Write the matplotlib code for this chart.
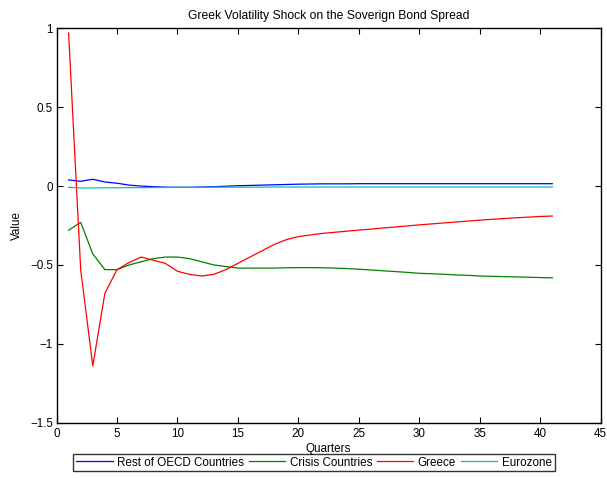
import matplotlib
matplotlib.use("Agg")
import matplotlib.pyplot as plt

plt.rcParams['font.family'] = ['Liberation Sans', 'DejaVu Sans']

quarters = list(range(1, 42))

rest_oecd = [0.039, 0.030, 0.043, 0.026, 0.018, 0.006, 0.000, -0.004, -0.007, -0.008,
             -0.008, -0.006, -0.004, -0.001, 0.002, 0.004, 0.006, 0.008, 0.010, 0.012,
             0.013, 0.014, 0.014, 0.014, 0.015, 0.015, 0.015, 0.015, 0.015, 0.015,
             0.015, 0.015, 0.015, 0.015, 0.015, 0.015, 0.015, 0.015, 0.015, 0.015, 0.015]

crisis = [-0.28, -0.23, -0.43, -0.53, -0.53, -0.50, -0.48, -0.46, -0.45, -0.45,
          -0.46, -0.48, -0.50, -0.51, -0.52, -0.52, -0.52, -0.52, -0.518, -0.517,
          -0.517, -0.518, -0.520, -0.523, -0.527, -0.532, -0.537, -0.542, -0.547, -0.553,
          -0.556, -0.559, -0.563, -0.566, -0.570, -0.572, -0.574, -0.576, -0.578, -0.580, -0.582]

greece = [0.97, -0.53, -1.14, -0.68, -0.53, -0.485, -0.45, -0.47, -0.49, -0.54,
          -0.56, -0.57, -0.56, -0.53, -0.49, -0.45, -0.41, -0.37, -0.34, -0.32,
          -0.31, -0.30, -0.293, -0.286, -0.279, -0.273, -0.266, -0.259, -0.253, -0.246,
          -0.240, -0.234, -0.228, -0.222, -0.216, -0.211, -0.206, -0.201, -0.197, -0.193, -0.19]

eurozone = [-0.008, -0.012, -0.012, -0.011, -0.011, -0.010, -0.010, -0.009, -0.009, -0.008,
            -0.008, -0.008, -0.007, -0.007, -0.007, -0.007, -0.007, -0.006, -0.006, -0.006,
            -0.006, -0.006, -0.006, -0.006, -0.006, -0.006, -0.006, -0.006, -0.006, -0.006,
            -0.006, -0.006, -0.006, -0.006, -0.006, -0.006, -0.006, -0.006, -0.006, -0.006, -0.006]

series_names = ["Rest of OECD Countries", "Crisis Countries", "Greece", "Eurozone"]
series_colors = ["#0000FF", "#008000", "#FF0000", "#00BFBF"]
xticks = [0, 5, 10, 15, 20, 25, 30, 35, 40, 45]
yticks = [-1.5, -1, -0.5, 0, 0.5, 1]
ytick_labels = ["\u22121.5", "\u22121", "\u22120.5", "0", "0.5", "1"]

fs = 8.4
fig = plt.figure(figsize=(6.07, 4.78), dpi=100)
ax = fig.add_axes([56.5/607, 1 - 422.7/478, (600.7-56.5)/607, (422.7-28.3)/478])

for vals, name, col in zip([rest_oecd, crisis, greece, eurozone], series_names, series_colors):
    ax.plot(quarters, vals, color=col, lw=0.9, label=name)

ax.set_xlim(0, 45)
ax.set_ylim(-1.5, 1)
ax.set_xticks(xticks)
ax.set_xticklabels([str(t) for t in xticks], fontsize=fs)
ax.set_yticks(yticks)
ax.set_yticklabels(ytick_labels, fontsize=fs)
ax.tick_params(direction='in', top=True, right=True, length=4, width=0.8)
ax.tick_params(axis='x', pad=3.5)
ax.tick_params(axis='y', pad=2.5)
for s in ax.spines.values():
    s.set_linewidth(1.0)

ax.set_title("Greek Volatility Shock on the Soverign Bond Spread", fontsize=8.7, pad=7)
ax.set_xlabel("Quarters", fontsize=fs, labelpad=2.5)
ax.set_ylabel("Value", fontsize=fs, labelpad=5)

leg = fig.legend(loc='center', bbox_to_anchor=(314/607, 1 - 462.5/478), ncol=4,
                 fontsize=fs, frameon=True, fancybox=False, handlelength=3.1,
                 handletextpad=0.4, columnspacing=0.4, borderpad=0.25, borderaxespad=0)
leg.get_frame().set_edgecolor('black')
leg.get_frame().set_linewidth(1.0)

fig.savefig("out.png", dpi=100)
